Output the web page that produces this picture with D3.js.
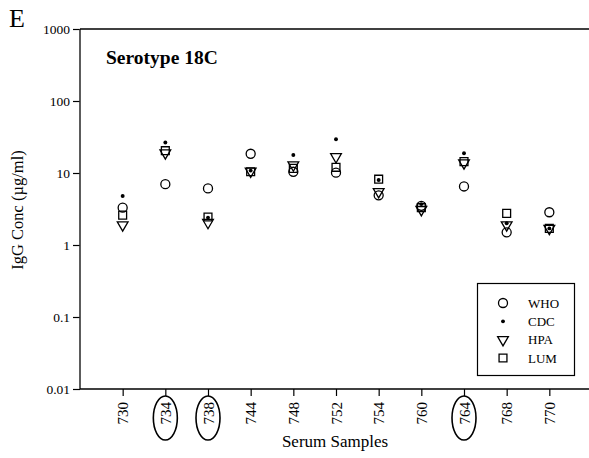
<!DOCTYPE html>
<html>
<head>
<meta charset="utf-8">
<script src="https://cdn.jsdelivr.net/npm/d3@7"></script>
<style>
  body { margin: 0; background: #fff; }
  text { font-family: "Liberation Serif", "DejaVu Serif", serif; fill: #000; }
</style>
</head>
<body>
<div id="chart"></div>
<script>
// serum samples on the x axis
const samples = ['730', '734', '738', '744', '748', '752', '754', '760', '764', '768', '770'];
const circled = ['734', '738', '764'];

// IgG concentration (ug/ml) per lab
const who = [3.3, 7.0, 6.1, 18.5, 10.4, 10.1, 4.9, 3.5, 6.5, 1.5, 2.85];
const cdc = [4.8, 26.5, 2.4, 10.8, 17.8, 29.5, 8.0, 3.7, 18.8, 2.0, 1.7];
const hpa = [1.9, 19, 2.05, 10.6, 12.9, 16.8, 5.5, 3.1, 13.8, 1.9, 1.7];
const lum = [2.6, 20.4, 2.45, 10.4, 11.6, 12, 8.2, 3.3, 14.4, 2.75, 1.7];

const yTicks = [0.01, 0.1, 1, 10, 100, 1000];

const width = 589, height = 458;
const margin = {left: 80, top: 29, right: 0, bottom: 69};

const svg = d3.select('#chart').append('svg')
  .attr('width', width)
  .attr('height', height);

const x = d3.scalePoint()
  .domain(samples)
  .range([margin.left, 592])
  .padding(1);

const y = d3.scaleLog()
  .domain([0.01, 1000])
  .range([height - margin.bottom, margin.top]);

// panel letter
svg.append('text')
  .attr('x', 9).attr('y', 27)
  .style('font-size', '26px')
  .text('E');

// y axis
const yAxis = svg.append('g')
  .attr('transform', 'translate(' + margin.left + ',0)')
  .call(d3.axisLeft(y).tickValues(yTicks).tickFormat(d => String(d)).tickSize(7).tickPadding(3));
yAxis.select('.domain').remove();
yAxis.selectAll('text').style('font-size', '13.5px').style('font-family', '"Liberation Serif", serif');
yAxis.selectAll('line').attr('stroke', '#000').attr('stroke-width', 1.2);

// x axis
const xAxis = svg.append('g')
  .attr('transform', 'translate(0,' + y(0.01) + ')')
  .call(d3.axisBottom(x).tickSize(7).tickSizeOuter(0));
xAxis.select('.domain').remove();
xAxis.selectAll('line').attr('stroke', '#000').attr('stroke-width', 1.2);
xAxis.selectAll('text')
  .style('font-size', '15px')
  .style('font-family', '"Liberation Serif", serif')
  .attr('transform', 'rotate(-90)')
  .attr('text-anchor', 'end')
  .attr('x', -13)
  .attr('y', 0)
  .attr('dy', '0.35em');

// frame lines: left, top, bottom
svg.append('line')
  .attr('x1', margin.left).attr('x2', margin.left)
  .attr('y1', y(1000)).attr('y2', y(0.01))
  .attr('stroke', '#333').attr('stroke-width', 1.6);
svg.append('line')
  .attr('x1', margin.left).attr('x2', width)
  .attr('y1', y(1000)).attr('y2', y(1000))
  .attr('stroke', '#000').attr('stroke-width', 1.6);
svg.append('line')
  .attr('x1', margin.left).attr('x2', width)
  .attr('y1', y(0.01)).attr('y2', y(0.01))
  .attr('stroke', '#000').attr('stroke-width', 1.6);

// ellipses around the highlighted samples
svg.selectAll('.ring')
  .data(circled)
  .enter()
  .append('ellipse')
  .attr('cx', d => x(d))
  .attr('cy', 418)
  .attr('rx', 12)
  .attr('ry', 22)
  .attr('fill', 'none')
  .attr('stroke', '#000')
  .attr('stroke-width', 1.6);

// axis titles
svg.append('text')
  .attr('transform', 'translate(23,210) rotate(-90)')
  .attr('text-anchor', 'middle')
  .style('font-size', '16.5px')
  .text('IgG Conc (\u00b5g/ml)');

svg.append('text')
  .attr('x', 335).attr('y', 447)
  .attr('text-anchor', 'middle')
  .style('font-size', '17px')
  .text('Serum Samples');

svg.append('text')
  .attr('x', 106).attr('y', 64)
  .style('font-size', '19.5px')
  .style('font-weight', 'bold')
  .text('Serotype 18C');

// marker shapes
const shapes = {
  WHO: d3.symbol().type(d3.symbolCircle).size(64),
  CDC: d3.symbol().type(d3.symbolCircle).size(12),
  HPA: d3.symbol().type(d3.symbolTriangle).size(50),
  LUM: d3.symbol().type(d3.symbolSquare).size(62)
};
const series = [
  {key: 'WHO', values: who},
  {key: 'HPA', values: hpa},
  {key: 'LUM', values: lum},
  {key: 'CDC', values: cdc}
];

function styleMarker(sel, key) {
  if (key === 'CDC') {
    sel.attr('fill', '#000').attr('stroke', 'none');
  } else {
    sel.attr('fill', 'none').attr('stroke', '#000').attr('stroke-width', 1.3);
  }
}

for (const s of series) {
  svg.selectAll('.m-' + s.key)
    .data(s.values)
    .enter()
    .append('path')
    .attr('d', shapes[s.key])
    .attr('transform', (d, i) => 'translate(' + x(samples[i]) + ',' + y(d) + ')' + (s.key === 'HPA' ? ' rotate(180)' : ''))
    .call(styleMarker, s.key);
}

// legend
const legend = svg.append('g');
legend.append('rect')
  .attr('x', 477.5).attr('y', 283.5)
  .attr('width', 97).attr('height', 92)
  .attr('fill', '#fff')
  .attr('stroke', '#000')
  .attr('stroke-width', 1.2);

const legendKeys = ['WHO', 'CDC', 'HPA', 'LUM'];
const ly = d3.scalePoint().domain(legendKeys).range([303, 358]);

legend.selectAll('.lg-mark')
  .data(legendKeys)
  .enter()
  .append('path')
  .attr('d', k => shapes[k]())
  .attr('transform', k => 'translate(503,' + ly(k) + ')' + (k === 'HPA' ? ' rotate(180)' : ''))
  .each(function(k) { d3.select(this).call(styleMarker, k); });

legend.selectAll('.lg-text')
  .data(legendKeys)
  .enter()
  .append('text')
  .attr('x', 528)
  .attr('y', k => ly(k))
  .attr('dy', '0.35em')
  .style('font-size', '13px')
  .text(k => k);
</script>
</body>
</html>
